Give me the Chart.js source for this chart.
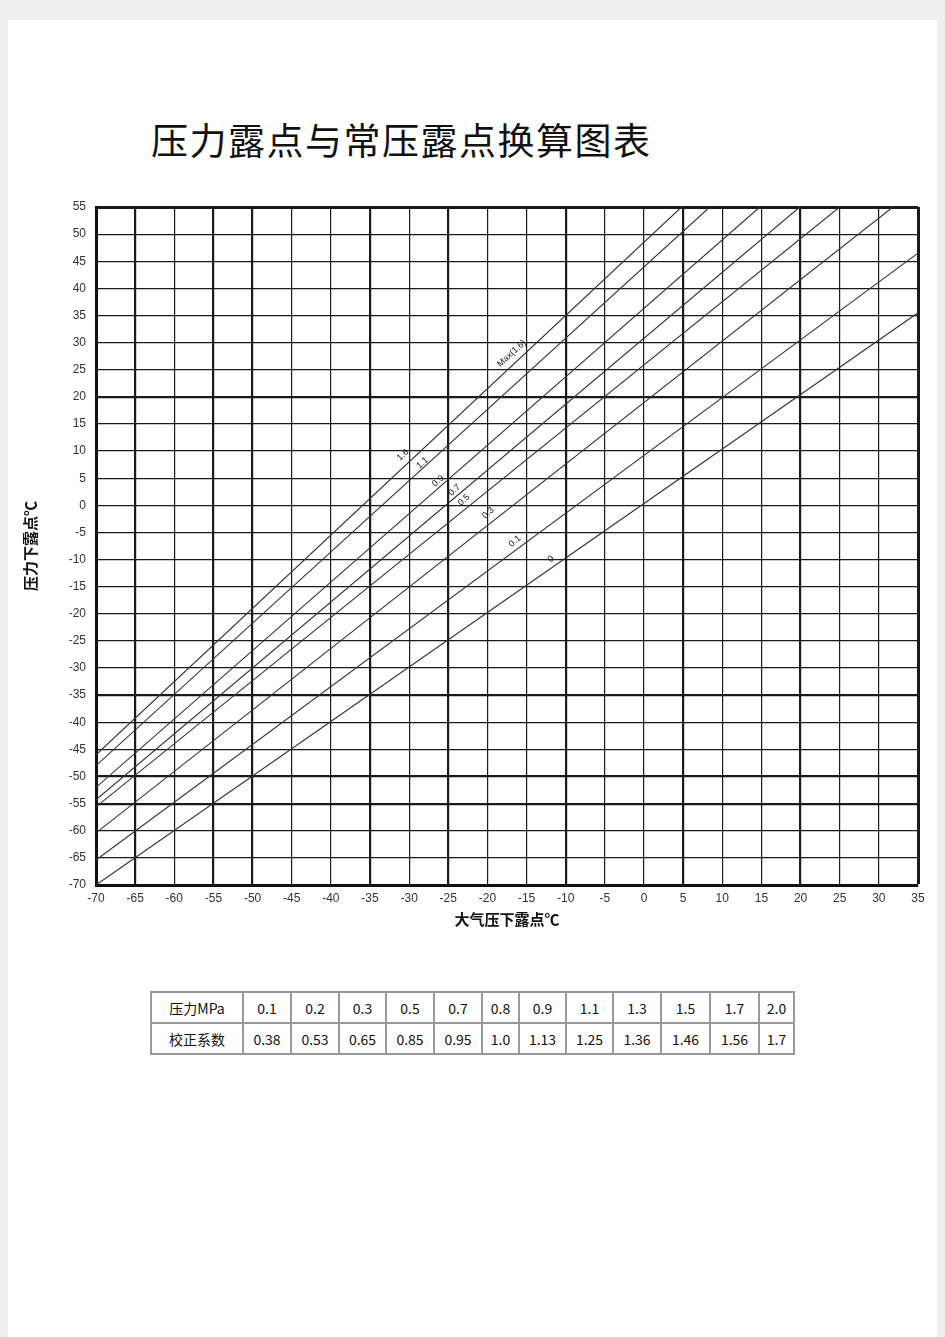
<!DOCTYPE html>
<html>
<head>
<meta charset="utf-8">
<script src="https://cdn.jsdelivr.net/npm/chart.js@4"></script>
<style>
  html, body { margin: 0; padding: 0; }
  body { width: 945px; height: 1337px; background: #efefef; position: relative; overflow: hidden; font-family: "Noto Sans CJK SC", sans-serif; }
  #page { position: absolute; left: 8px; top: 20px; width: 929px; height: 1317px; background: #fff; }
  #title { position: absolute; left: 151px; top: 112px; font-size: 37px; color: #111; letter-spacing: 1.5px; white-space: nowrap; font-family: "Noto Sans CJK SC", serif; }
  #wrap { position: absolute; left: 0; top: 180px; width: 945px; height: 770px; }
  table { position: absolute; left: 150px; top: 991px; border-collapse: separate; border-spacing: 0; border: 1px solid #9a9a9a; font-family: "Noto Sans CJK SC", sans-serif; font-size: 14px; color: #111; }
  td { border: 1px solid #9a9a9a; height: 29px; padding: 0; text-align: center; }
</style>
</head>
<body>
<div id="page"></div>
<div id="title">压力露点与常压露点换算图表</div>
<div id="wrap"><canvas id="c" width="945" height="770"></canvas></div>
<table id="tbl"></table>
<script>
// ---- data ----
const xMin = -70, xMax = 35, yMin = -70, yMax = 55, step = 5;
const thickX = [-65, -55, -50, -35, -25, -10, 5, 20];
const thickY = [20, -35, -50, -55];
const lineNames = ['1.6', '1.1', '0.9', '0.7', '0.5', '0.3', '0.1', '0'];
const lineX0 = [-70, -70, -70, -70, -70, -70, -70, -70];
const lineY0 = [-46, -48, -52, -54.3, -55.6, -60.4, -65.4, -70];
const lineX1 = [4.8, 8.4, 14.8, 19.9, 25, 31.8, 35, 35];
const lineY1 = [55, 55, 55, 55, 55, 55, 46.5, 35.5];
const labelX = [-30.8, -28.3, -26.3, -24.2, -23, -19.9, -16.5, -11.9];
const labelY = [9.3, 7.8, 4.5, 2.8, 1.0, -1.4, -6.6, -9.9];
const maxLabel = 'Max(1.6)';
const maxLabelX = -16.9, maxLabelY = 28;
const xTitle = '大气压下露点℃';
const yTitle = '压力下露点℃';
const tablePressure = ['0.1','0.2','0.3','0.5','0.7','0.8','0.9','1.1','1.3','1.5','1.7','2.0'];
const tableFactor = ['0.38','0.53','0.65','0.85','0.95','1.0','1.13','1.25','1.36','1.46','1.56','1.7'];
const tableHead = ['压力MPa', '校正系数'];
const colWidths = [92, 48, 48, 47, 48, 48, 37, 47, 47, 48, 49, 49, 35];

// ---- table ----
const tbl = document.getElementById('tbl');
[[tableHead[0]].concat(tablePressure), [tableHead[1]].concat(tableFactor)].forEach(row => {
  const tr = document.createElement('tr');
  row.forEach((v, i) => {
    const td = document.createElement('td');
    td.textContent = v;
    td.style.width = (colWidths[i] - 2) + 'px';
    tr.appendChild(td);
  });
  tbl.appendChild(tr);
});

// ---- chart ----
const datasets = lineNames.map((n, i) => ({
  label: n,
  data: [{x: lineX0[i], y: lineY0[i]}, {x: lineX1[i], y: lineY1[i]}],
  showLine: true,
  borderColor: '#333',
  borderWidth: 1.1,
  pointRadius: 0,
  fill: false
}));

const labelPlugin = {
  id: 'lineLabels',
  afterDatasetsDraw(chart) {
    const {ctx, scales: {x, y}} = chart;
    ctx.save();
    ctx.fillStyle = '#222';
    ctx.font = '9px "Liberation Sans", Arial, sans-serif';
    ctx.textAlign = 'center';
    ctx.textBaseline = 'middle';
    const put = (t, vx, vy) => {
      ctx.save();
      ctx.translate(x.getPixelForValue(vx), y.getPixelForValue(vy));
      ctx.rotate(-42 * Math.PI / 180);
      ctx.fillText(t, 0, 0);
      ctx.restore();
    };
    lineNames.forEach((n, i) => put(n, labelX[i], labelY[i]));
    put(maxLabel, maxLabelX, maxLabelY);
    ctx.restore();
  }
};

new Chart(document.getElementById('c'), {
  type: 'scatter',
  data: { datasets },
  plugins: [labelPlugin],
  options: {
    responsive: false,
    animation: false,
    events: [],
    layout: { padding: { top: 27, right: 27, left: 0, bottom: 0 } },
    plugins: { legend: { display: false }, tooltip: { enabled: false } },
    scales: {
      x: {
        type: 'linear', min: xMin, max: xMax,
        afterFit(s) { s.height = 65; },
        ticks: { stepSize: step, color: '#333', padding: 6, maxRotation: 0, autoSkip: false,
                 font: { family: '"Liberation Sans", Arial, sans-serif', size: 12 } },
        grid: { drawTicks: false, color: '#1a1a1a',
                lineWidth: c => (c.tick && (c.tick.value === xMax)) ? 3 : (c.tick && thickX.includes(c.tick.value) ? 2.2 : 1.2) },
        border: { display: true, width: 3, color: '#111' },
        title: { display: true, text: xTitle, color: '#111', padding: { top: 0, bottom: 22 },
                 font: { family: '"Noto Sans CJK SC", sans-serif', size: 15, weight: 'bold' } }
      },
      y: {
        type: 'linear', min: yMin, max: yMax,
        afterFit(s) { s.width = 96; },
        ticks: { stepSize: step, color: '#333', padding: 10, autoSkip: false,
                 font: { family: '"Liberation Sans", Arial, sans-serif', size: 12 } },
        grid: { drawTicks: false, color: '#1a1a1a',
                lineWidth: c => (c.tick && (c.tick.value === yMax)) ? 3 : (c.tick && thickY.includes(c.tick.value) ? 2.2 : 1.2) },
        border: { display: true, width: 3, color: '#111' },
        title: { display: true, text: yTitle, color: '#111', padding: { top: 21, bottom: 0 },
                 font: { family: '"Noto Sans CJK SC", sans-serif', size: 15, weight: 'bold' } }
      }
    }
  }
});
</script>
</body>
</html>
